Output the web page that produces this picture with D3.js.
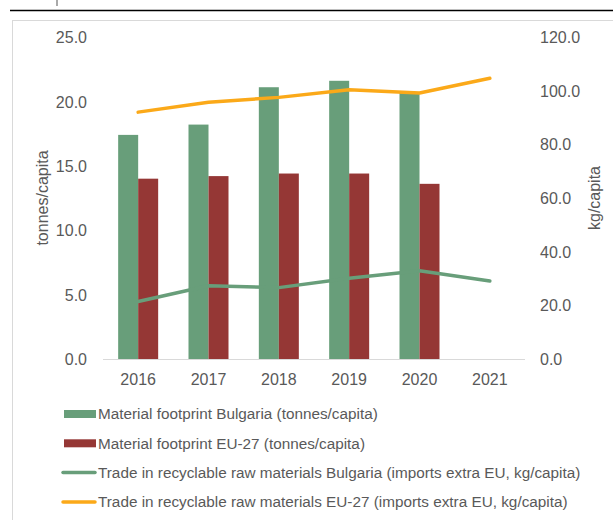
<!DOCTYPE html>
<html lang="en">
<head>
    <meta charset="UTF-8">
    <title>Material footprint and trade in recyclable raw materials</title>
    <style>
        body { margin: 0; background: #fff; }
        text { font-family: "Liberation Sans", Arial, sans-serif; fill: #595959; }
        .tick-label { font-size: 16px; }
        .axis-title { font-size: 16px; }
        .legend-label { font-size: 15.3px; }
    </style>
</head>
<body>
<div id="container"></div>
<script src="https://d3js.org/d3.v7.min.js"></script>
<script>
    // data
    var years = ["2016", "2017", "2018", "2019", "2020", "2021"];
    var footprintBG = [17.4, 18.2, 21.1, 21.6, 20.7, null];
    var footprintEU = [14.0, 14.2, 14.4, 14.4, 13.6, null];
    var tradeBG = [21.4, 27.3, 26.6, 30.1, 32.9, 29.1];
    var tradeEU = [92.0, 95.7, 97.5, 100.3, 99.1, 104.6];
    var leftTicks = [0, 5, 10, 15, 20, 25];
    var rightTicks = [0, 20, 40, 60, 80, 100, 120];

    var legendLabels = [
        { label: "Material footprint Bulgaria (tonnes/capita)", color: "#689e7a", type: "bar" },
        { label: "Material footprint EU-27 (tonnes/capita)", color: "#953735", type: "bar" },
        { label: "Trade in recyclable raw materials Bulgaria (imports extra EU, kg/capita)", color: "#689e7a", type: "line" },
        { label: "Trade in recyclable raw materials EU-27 (imports extra EU, kg/capita)", color: "#fba919", type: "line" }
    ];

    var width = 613, height = 520;
    var plot = { left: 103, right: 525, top: 37, bottom: 359 };

    var svg = d3.select("#container").append("svg")
        .attr("width", width)
        .attr("height", height);

    // bits of the page around the chart
    svg.append("line")
        .attr("x1", 57).attr("x2", 57).attr("y1", 0).attr("y2", 6)
        .attr("stroke", "#8c8c8c").attr("stroke-width", 1.5);
    svg.append("line")
        .attr("x1", 10).attr("x2", width).attr("y1", 10.5).attr("y2", 10.5)
        .attr("stroke", "#000").attr("stroke-width", 1.5);
    svg.append("rect")
        .attr("x", 12.5).attr("y", 20.5)
        .attr("width", width).attr("height", height)
        .attr("fill", "none").attr("stroke", "#d9d9d9");

    // scales
    var x = d3.scaleBand().domain(years).range([plot.left, plot.right]).padding(0);
    var yL = d3.scaleLinear().domain([0, 25]).range([plot.bottom, plot.top]);
    var yR = d3.scaleLinear().domain([0, 120]).range([plot.bottom, plot.top]);
    var barW = 20;

    // axes
    var leftAxis = svg.append("g")
        .attr("transform", "translate(" + (plot.left - 16) + ",0)")
        .call(d3.axisLeft(yL).tickValues(leftTicks).tickSize(0).tickPadding(0).tickFormat(d3.format(".1f")));
    leftAxis.select(".domain").remove();

    var rightAxis = svg.append("g")
        .attr("transform", "translate(" + (plot.right + 15) + ",0)")
        .call(d3.axisRight(yR).tickValues(rightTicks).tickSize(0).tickPadding(0).tickFormat(d3.format(".1f")));
    rightAxis.select(".domain").remove();

    var bottomAxis = svg.append("g")
        .attr("transform", "translate(0," + (plot.bottom + 20) + ")")
        .call(d3.axisBottom(x).tickSize(0).tickPadding(0));
    bottomAxis.select(".domain").remove();

    svg.selectAll(".tick text")
        .attr("class", "tick-label")
        .attr("font-family", null).attr("font-size", null)
        .style("fill", "#595959");
    leftAxis.selectAll("text").attr("dy", "0.35em");
    rightAxis.selectAll("text").attr("dy", "0.35em");
    bottomAxis.selectAll("text").attr("dy", "0.35em");

    // bars
    var bars = svg.append("g").attr("class", "bars");
    bars.selectAll("rect.bg")
        .data(years.filter(function (d, i) { return footprintBG[i] != null; }))
        .enter().append("rect")
        .attr("class", "bg")
        .attr("x", function (d) { return x(d) + x.bandwidth() / 2 - barW; })
        .attr("y", function (d) { return yL(footprintBG[years.indexOf(d)]); })
        .attr("width", barW)
        .attr("height", function (d) { return plot.bottom - yL(footprintBG[years.indexOf(d)]); })
        .attr("fill", legendLabels[0].color);

    bars.selectAll("rect.eu")
        .data(years.filter(function (d, i) { return footprintEU[i] != null; }))
        .enter().append("rect")
        .attr("class", "eu")
        .attr("x", function (d) { return x(d) + x.bandwidth() / 2; })
        .attr("y", function (d) { return yL(footprintEU[years.indexOf(d)]); })
        .attr("width", barW)
        .attr("height", function (d) { return plot.bottom - yL(footprintEU[years.indexOf(d)]); })
        .attr("fill", legendLabels[1].color);

    // baseline
    svg.append("line")
        .attr("x1", plot.left).attr("x2", plot.right)
        .attr("y1", plot.bottom + 0.5).attr("y2", plot.bottom + 0.5)
        .attr("stroke", "#d9d9d9").attr("stroke-width", 1);

    // lines on the right axis
    var line = d3.line()
        .x(function (d, i) { return x(years[i]) + x.bandwidth() / 2; })
        .y(function (d) { return yR(d); });

    svg.append("path")
        .datum(tradeBG)
        .attr("d", line)
        .attr("fill", "none")
        .attr("stroke", legendLabels[2].color)
        .attr("stroke-width", 3.5)
        .attr("stroke-linecap", "round")
        .attr("stroke-linejoin", "round");

    svg.append("path")
        .datum(tradeEU)
        .attr("d", line)
        .attr("fill", "none")
        .attr("stroke", legendLabels[3].color)
        .attr("stroke-width", 3.5)
        .attr("stroke-linecap", "round")
        .attr("stroke-linejoin", "round");

    // axis titles
    svg.append("text")
        .attr("class", "axis-title")
        .attr("transform", "translate(48," + ((plot.top + plot.bottom) / 2) + ") rotate(-90)")
        .attr("text-anchor", "middle")
        .text("tonnes/capita");

    svg.append("text")
        .attr("class", "axis-title")
        .attr("transform", "translate(600," + ((plot.top + plot.bottom) / 2) + ") rotate(-90)")
        .attr("text-anchor", "middle")
        .text("kg/capita");

    // legend
    var legend = svg.append("g").attr("class", "legend");
    var rows = legend.selectAll("g")
        .data(legendLabels)
        .enter().append("g")
        .attr("transform", function (d, i) { return "translate(0," + (414 + i * 29.3) + ")"; });

    rows.filter(function (d) { return d.type === "bar"; })
        .append("rect")
        .attr("x", 64).attr("y", -4)
        .attr("width", 32).attr("height", 8)
        .attr("fill", function (d) { return d.color; });

    rows.filter(function (d) { return d.type === "line"; })
        .append("line")
        .attr("x1", 63).attr("x2", 95).attr("y1", 0).attr("y2", 0)
        .attr("stroke", function (d) { return d.color; })
        .attr("stroke-width", 3.5)
        .attr("stroke-linecap", "round");

    rows.append("text")
        .attr("class", "legend-label")
        .attr("x", 98)
        .attr("dy", "0.35em")
        .text(function (d) { return d.label; });
</script>
</body>
</html>
